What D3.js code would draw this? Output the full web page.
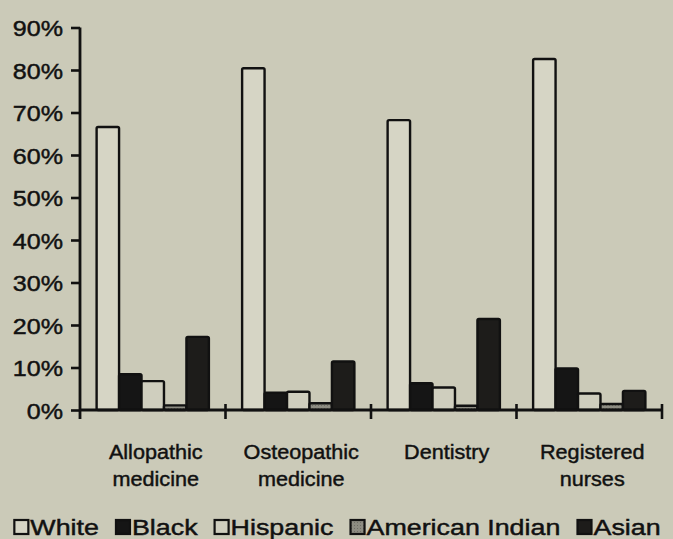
<!DOCTYPE html>
<html>
<head>
<meta charset="utf-8">
<script src="https://cdn.jsdelivr.net/npm/d3@7/dist/d3.min.js"></script>
<style>
  html, body { margin: 0; padding: 0; background: #cbcab8; }
  svg { display: block; }
  text { font-family: "Liberation Sans", Arial, sans-serif; fill: #111; stroke: #111; stroke-width: 0.45px; }
</style>
</head>
<body>
<svg id="chart" width="673" height="539"></svg>
<script>
// ---- data ----
const categories = [["Allopathic", "medicine"], ["Osteopathic", "medicine"], ["Dentistry"], ["Registered", "nurses"]];
const seriesNames = ["White", "Black", "Hispanic", "American Indian", "Asian"];
const white    = [66.6, 80.4, 68.2, 82.6];
const black    = [8.4, 4.1, 6.3, 9.8];
const hispanic = [6.8, 4.3, 5.3, 3.9];
const amIndian = [1.1, 1.6, 1.0, 1.4];
const asian    = [17.2, 11.4, 21.4, 4.5];
const yTicks   = [0, 10, 20, 30, 40, 50, 60, 70, 80, 90];

const seriesValues = [white, black, hispanic, amIndian, asian];
const fills = ["#d6d5c5", "#151515", "#cfcebe", "url(#amPat)", "#1d1c1a"];

const svg = d3.select("#chart");
const defs = svg.append("defs");
const pat = defs.append("pattern").attr("id", "amPat").attr("width", 3).attr("height", 3)
  .attr("patternUnits", "userSpaceOnUse");
pat.append("rect").attr("width", 3).attr("height", 3).attr("fill", "#8d8c82");
pat.append("rect").attr("width", 1).attr("height", 1).attr("fill", "#6e6d65");

const x0 = d3.scaleBand().domain(d3.range(categories.length)).range([80, 662]).paddingInner(0).paddingOuter(0);
const x1 = d3.scaleBand().domain(d3.range(seriesNames.length)).range([0, x0.bandwidth()]).paddingInner(0).paddingOuter(0.74);
const y = d3.scaleLinear().domain([0, 90]).range([410, 27.5]);

// bars
const g = svg.append("g");
seriesValues.forEach((vals, si) => {
  g.selectAll(null).data(vals).enter().append("rect")
    .attr("x", (d, i) => x0(i) + x1(si))
    .attr("y", d => y(d))
    .attr("width", x1.bandwidth())
    .attr("height", d => y(0) - y(d))
    .attr("rx", 1.5)
    .attr("fill", fills[si])
    .attr("stroke", "#111")
    .attr("stroke-width", 2.4);
});

// y axis
const yAxis = d3.axisLeft(y).tickValues(yTicks).tickSize(9).tickFormat(d => d + "%");
const ya = svg.append("g").attr("transform", "translate(80,0)").call(yAxis);
ya.select(".domain").attr("stroke", "#111").attr("stroke-width", 2.8).attr("d", "M0,27.5V419");
ya.selectAll(".tick line").attr("stroke", "#111").attr("stroke-width", 2.6);
ya.selectAll(".tick text").attr("x", null).attr("dy", null)
  .attr("text-anchor", "end")
  .attr("font-size", 22)
  .attr("transform", "translate(-17,8) scale(1.14,1)");

// x axis
const xa = svg.append("g").attr("transform", "translate(0,410)");
xa.append("line").attr("x1", 80).attr("x2", 662).attr("y1", 0).attr("y2", 0)
  .attr("stroke", "#111").attr("stroke-width", 2.8);
const bounds = d3.range(1, categories.length + 1).map(i => x0(i - 1) + x0.bandwidth());
xa.selectAll(null).data(bounds).enter().append("line")
  .attr("x1", d => d).attr("x2", d => d).attr("y1", -6).attr("y2", 9)
  .attr("stroke", "#111").attr("stroke-width", 2.6);

// category labels
categories.forEach((lines, i) => {
  const cx = x0(i) + x0.bandwidth() / 2 + 3;
  lines.forEach((t, li) => {
    svg.append("text")
      .attr("text-anchor", "middle")
      .attr("font-size", 21)
      .attr("transform", "translate(" + cx + "," + (459 + li * 27) + ") scale(1.03,1)")
      .text(t);
  });
});

// legend
const LFS = 22, LSX = 1.22;
const lg = svg.append("g");
const sq = 16, gapSqText = 1, gapItems = 16;
const items = seriesNames.map((name, i) => {
  const t = lg.append("text").attr("font-size", LFS).text(name);
  const w = t.node().getComputedTextLength() * LSX;
  return { name, i, t, w };
});
const total = d3.sum(items, d => sq + gapSqText + d.w) + gapItems * (items.length - 1);
let cx = 337 - total / 2;
items.forEach(d => {
  lg.append("rect").attr("x", cx + 1).attr("y", 520).attr("width", sq - 2).attr("height", sq - 2)
    .attr("fill", fills[d.i]).attr("stroke", "#111").attr("stroke-width", 2.2);
  cx += sq + gapSqText;
  d.t.attr("transform", "translate(" + cx + ",535) scale(" + LSX + ",1)");
  cx += d.w + gapItems;
});
</script>
</body>
</html>
